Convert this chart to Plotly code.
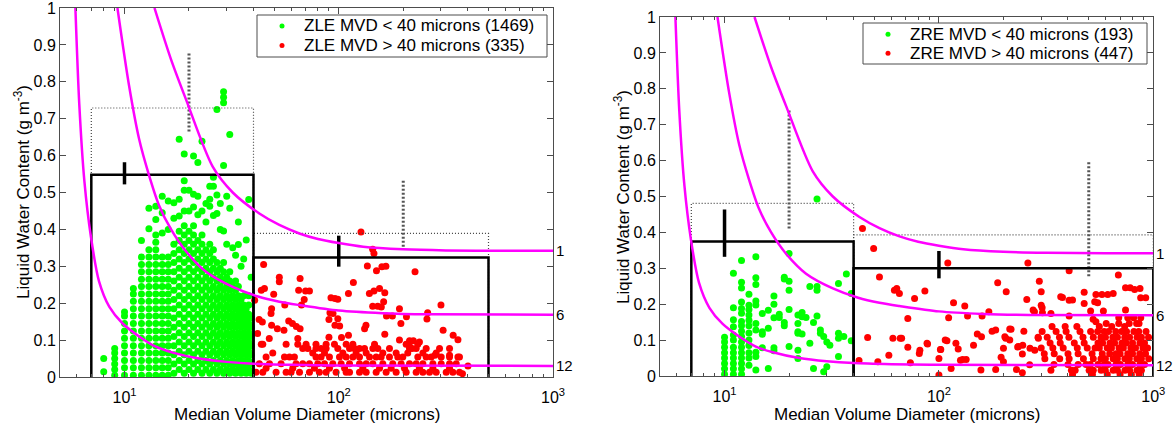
import math
import plotly.graph_objects as go

FONT = "Liberation Sans, Arial, Helvetica, sans-serif"
W, H = 1174, 429

# ---------------- guide curves (labelled 1, 6, 12) ----------------
curve_labels = ["1", "6", "12"]
curve1_mvd = [13.8, 16.5, 19.4, 25.8, 32, 42.6, 52.8, 65.5, 80, 100, 130, 200, 316, 600, 1000]
curve1_lwc = [1.0, 0.86, 0.751, 0.57, 0.50, 0.443, 0.412, 0.389, 0.374, 0.363, 0.353, 0.346, 0.343, 0.342, 0.342]
curve6_mvd = [9.27, 10.5, 11.7, 13.0, 14.5, 16.5, 19.4, 24, 32, 42, 52.8, 65.5, 100, 160, 263, 1000]
curve6_lwc = [1.0, 0.79, 0.645, 0.548, 0.465, 0.40, 0.340, 0.285, 0.244, 0.218, 0.204, 0.195, 0.180, 0.173, 0.170, 0.169]
curve12_mvd = [5.9, 6.15, 6.5, 6.97, 7.6, 8.5, 9.8, 11.7, 14, 16.8, 22.3, 30, 40, 60, 100, 1000]
curve12_lwc = [1.0, 0.74, 0.53, 0.38, 0.26, 0.19, 0.145, 0.11, 0.082, 0.066, 0.05, 0.041, 0.036, 0.033, 0.031, 0.030]

# ---------------- bin means (black) and dotted boxes ----------------
zle_bin_lo = [7, 40]
zle_bin_hi = [40, 500]
zle_mean = [0.548, 0.324]
zle_err_x = [10, 100]
zle_err_lo = [0.522, 0.299]
zle_err_hi = [0.582, 0.383]
zle_dot = [0.729, 0.389]
zle_dot_err_x = [20, 200]
zle_dot_err_lo = [0.665, 0.353]
zle_dot_err_hi = [0.882, 0.534]

zre_bin_lo = [7, 40]
zre_bin_hi = [40, 1000]
zre_mean = [0.375, 0.300]
zre_err_x = [10, 100]
zre_err_lo = [0.332, 0.272]
zre_err_hi = [0.464, 0.348]
zre_dot = [0.481, 0.393]
zre_dot_err_x = [20, 500]
zre_dot_err_lo = [0.411, 0.278]
zre_dot_err_hi = [0.740, 0.596]

# ---------------- axis ticks / legend text ----------------
x_tickvals = [10, 100, 1000]
x_ticktext = ["10<sup>1</sup>", "10<sup>2</sup>", "10<sup>3</sup>"]
x_minor = [6, 7, 8, 9, 20, 30, 40, 50, 60, 70, 80, 90, 200, 300, 400, 500, 600, 700, 800, 900]
zle_legend = ["ZLE MVD &lt; 40 microns (1469)", "ZLE MVD &gt; 40 microns (335)"]
zre_legend = ["ZRE MVD &lt; 40 microns (193)", "ZRE MVD &gt; 40 microns (447)"]

# ---------------- ZLE, MVD < 40 (columns: MVD, LWC values) ----------------
zle_lt40_columns = [
    (8, [0.014, 0.05]),
    (9, [0.005, 0.02, 0.035, 0.05, 0.065, 0.077]),
    (10, [0.005, 0.025, 0.045, 0.065, 0.085, 0.105, 0.125, 0.145, 0.165, 0.176]),
    (11, [0.005, 0.025, 0.045, 0.065, 0.085, 0.105, 0.125, 0.145, 0.165, 0.185, 0.205, 0.225, 0.24]),
    (12, [0.005, 0.025, 0.045, 0.065, 0.085, 0.105, 0.125, 0.145, 0.165, 0.185, 0.205, 0.225, 0.245, 0.265,
          0.285, 0.305, 0.325, 0.37]),
    (13, [0.005, 0.025, 0.045, 0.065, 0.085, 0.105, 0.125, 0.145, 0.165, 0.185, 0.205, 0.225, 0.245, 0.265,
          0.285, 0.305, 0.325, 0.345, 0.402, 0.457]),
    (14, [0.005, 0.025, 0.045, 0.065, 0.085, 0.105, 0.125, 0.145, 0.165, 0.185, 0.205, 0.225, 0.245, 0.265,
          0.285, 0.305, 0.325, 0.345, 0.365, 0.385, 0.427, 0.463]),
    (15, [0.005, 0.025, 0.045, 0.065, 0.085, 0.105, 0.125, 0.145, 0.165, 0.185, 0.205, 0.225, 0.245, 0.265,
          0.285, 0.305, 0.325, 0.39, 0.445, 0.49]),
    (16, [0.005, 0.025, 0.045, 0.065, 0.085, 0.105, 0.125, 0.145, 0.165, 0.185, 0.205, 0.225, 0.245, 0.265,
          0.285, 0.305, 0.325, 0.40, 0.477]),
    (17, [0.01, 0.035, 0.06, 0.085, 0.11, 0.135, 0.16, 0.185, 0.21, 0.235, 0.26, 0.285, 0.31, 0.335, 0.36,
          0.43, 0.472]),
    (18, [0.02, 0.045, 0.07, 0.095, 0.12, 0.145, 0.17, 0.195, 0.22, 0.245, 0.27, 0.295, 0.32, 0.345, 0.37,
          0.395, 0.436, 0.482, 0.644]),
    (19, [0.01, 0.035, 0.06, 0.085, 0.11, 0.135, 0.16, 0.185, 0.21, 0.235, 0.26, 0.285, 0.31, 0.335, 0.36,
          0.385, 0.41, 0.45, 0.506, 0.532, 0.604]),
    (20, [0.02, 0.045, 0.07, 0.095, 0.12, 0.145, 0.17, 0.195, 0.22, 0.245, 0.27, 0.295, 0.32, 0.345, 0.37,
          0.395, 0.45, 0.506]),
    (21, [0.01, 0.035, 0.06, 0.085, 0.11, 0.135, 0.16, 0.185, 0.21, 0.235, 0.26, 0.285, 0.31, 0.335, 0.36,
          0.385, 0.41, 0.461, 0.495, 0.599]),
    (22, [0.02, 0.045, 0.07, 0.095, 0.12, 0.145, 0.17, 0.195, 0.22, 0.245, 0.27, 0.295, 0.32, 0.345, 0.37,
          0.44, 0.49, 0.581]),
    (23, [0.01, 0.035, 0.06, 0.085, 0.11, 0.135, 0.16, 0.185, 0.21, 0.235, 0.26, 0.285, 0.31, 0.335, 0.36,
          0.385, 0.45, 0.639]),
    (24, [0.02, 0.045, 0.07, 0.095, 0.12, 0.145, 0.17, 0.195, 0.22, 0.245, 0.27, 0.295, 0.32, 0.345,
          0.42, 0.47]),
    (25, [0.01, 0.035, 0.06, 0.085, 0.11, 0.135, 0.16, 0.185, 0.21, 0.235, 0.26, 0.285, 0.31, 0.335, 0.36,
          0.463, 0.482, 0.517]),
    (26, [0.02, 0.045, 0.07, 0.095, 0.12, 0.145, 0.17, 0.195, 0.22, 0.245, 0.27, 0.295, 0.32, 0.345,
          0.438, 0.517, 0.541]),
    (27, [0.01, 0.035, 0.06, 0.085, 0.11, 0.135, 0.16, 0.185, 0.21, 0.235, 0.26, 0.285, 0.31,
          0.443, 0.493, 0.725]),
    (28, [0.02, 0.045, 0.07, 0.095, 0.12, 0.145, 0.17, 0.195, 0.22, 0.245, 0.27, 0.295, 0.40, 0.47]),
    (29, [0.01, 0.035, 0.06, 0.085, 0.11, 0.135, 0.16, 0.185, 0.21, 0.235, 0.26, 0.285, 0.31,
          0.396, 0.573, 0.743, 0.758, 0.773]),
    (30, [0.02, 0.045, 0.07, 0.095, 0.12, 0.145, 0.17, 0.195, 0.22, 0.245, 0.27, 0.36, 0.49]),
    (31, [0.01, 0.035, 0.06, 0.085, 0.11, 0.135, 0.16, 0.185, 0.21, 0.235, 0.26, 0.285, 0.457, 0.657]),
    (32, [0.02, 0.045, 0.07, 0.095, 0.12, 0.145, 0.17, 0.195, 0.22, 0.245, 0.35]),
    (33, [0.01, 0.035, 0.06, 0.085, 0.11, 0.135, 0.16, 0.185, 0.21, 0.235, 0.26, 0.33]),
    (34, [0.02, 0.045, 0.07, 0.095, 0.12, 0.145, 0.17, 0.195, 0.22, 0.245, 0.359, 0.42]),
    (35, [0.01, 0.035, 0.06, 0.085, 0.11, 0.135, 0.16, 0.185, 0.21, 0.30]),
    (36, [0.02, 0.045, 0.07, 0.095, 0.12, 0.145, 0.17, 0.195, 0.22, 0.32]),
    (37, [0.01, 0.035, 0.06, 0.085, 0.11, 0.135, 0.16, 0.185, 0.371]),
    (38, [0.02, 0.045, 0.07, 0.095, 0.12, 0.145, 0.17, 0.195, 0.22, 0.481]),
    (39, [0.01, 0.035, 0.06, 0.085, 0.11, 0.135, 0.16, 0.27]),
]

# ---------------- ZLE, MVD > 40 ----------------
zle_gt40_points = [
    (127, 0.393), (144, 0.346), (146, 0.335), (44.6, 0.305), (136, 0.301), (150, 0.288), (159, 0.299),
    (166, 0.30), (227, 0.285), (52.8, 0.27), (52.8, 0.258), (66, 0.267), (43.5, 0.235), (45, 0.24),
    (49.7, 0.224), (65, 0.235), (70, 0.233), (73, 0.233), (117, 0.256), (111, 0.226), (139, 0.226),
    (146, 0.233), (155, 0.24), (164, 0.228), (162, 0.204), (158, 0.19), (152, 0.192), (144, 0.192),
    (92, 0.215), (96, 0.213), (99, 0.211), (69, 0.21), (56, 0.195), (67, 0.195), (40.5, 0.208),
    (192, 0.185), (207, 0.163), (167, 0.165), (178, 0.165), (260, 0.174), (258, 0.157), (300, 0.195),
    (91, 0.174), (94, 0.172), (99, 0.158), (90, 0.156), (96, 0.14), (101, 0.138), (195, 0.145),
    (134, 0.14), (132, 0.131), (307, 0.127), (342, 0.113), (360, 0.101), (48.6, 0.185), (48.3, 0.172),
    (42.5, 0.156), (44, 0.149), (48.6, 0.14), (51.7, 0.131), (58.4, 0.152), (60.8, 0.145), (63.4, 0.137),
    (66, 0.131), (55.5, 0.127), (41.8, 0.118), (47.4, 0.104), (43.5, 0.089), (64.4, 0.104), (90, 0.108),
    (103, 0.107), (111, 0.113), (164, 0.116), (192, 0.1), (214, 0.098), (223, 0.098), (238, 0.095),
    (220, 0.077), (214, 0.083), (281, 0.059), (329, 0.059), (366, 0.054), (401, 0.03), (378, 0.009),
]
zle_gt40_rows = [
    (0.089, [44.2, 56.8, 64.4, 70.4, 78.3, 87.3, 95.5, 108.3, 116.4, 146.9, 206.4, 233.9]),
    (0.077, [67.9, 71.7, 78.3, 82.7, 87.3, 99.0, 112.3, 118.4, 125.0, 131.9, 144.3, 152.2, 172.5, 213.9,
             229.8, 255.9, 295.4, 328.9]),
    (0.065, [49.2, 75.6, 85.8, 104.5, 120.5, 134.3, 160.6, 185.3, 210, 247, 285]),
    (0.054, [45.8, 55.8, 58.9, 62.1, 78.3, 82.7, 90.5, 100.8, 108.3, 116.4, 125.0, 139.2, 149.5, 157.7,
             172.5, 188.6, 199.1, 233.9, 255.9, 270.1, 300.7, 328.9, 359.8]),
    (0.036, [42.6, 47.5, 53.8, 63.2, 67.9, 73.0, 79.8, 85.8, 93.8, 102.6, 112.3, 125.0, 134.3, 144.3,
             160.6, 178.7, 195.5, 213.9, 229.8, 247.0, 275.0, 300.7, 328.9, 353.4]),
    (0.024, [45.8, 61, 77, 90.5, 106.5, 129.5, 155, 175.6, 202.7, 238.1, 275, 328.9]),
    (0.013, [41.1, 44.2, 51.0, 56.8, 59.9, 65.6, 73.0, 81.2, 87.3, 97.2, 108.3, 112.3, 125.0, 134.3,
             149.5, 166.4, 185.3, 206.4, 229.8, 247.0, 265.3, 285.0, 317.4, 341.0, 366.3]),
]

# ---------------- ZRE, MVD < 40 ----------------
zre_lt40_columns = [
    (10, [0.005, 0.02, 0.035, 0.05, 0.065, 0.08, 0.095, 0.108]),
    (11, [0.005, 0.02, 0.035, 0.05, 0.065, 0.08, 0.1, 0.114, 0.137, 0.157, 0.19, 0.286]),
    (12, [0.005, 0.02, 0.035, 0.05, 0.065, 0.08, 0.095, 0.11, 0.125, 0.14, 0.152, 0.175, 0.188, 0.206,
          0.245, 0.261, 0.322]),
    (13, [0.03, 0.05, 0.065, 0.085, 0.1, 0.12, 0.14, 0.155, 0.17, 0.185, 0.197, 0.228]),
    (14, [0.017, 0.054, 0.066, 0.128, 0.146, 0.198, 0.209, 0.255, 0.274, 0.332]),
    (15, [0.079, 0.116, 0.123, 0.174]),
    (16, [0.021, 0.133, 0.183]),
    (17, [0.07, 0.079, 0.162, 0.2, 0.223]),
    (18, [0.163, 0.172]),
    (19, [0.14, 0.149, 0.27, 0.275]),
    (20, [0.082, 0.185, 0.239, 0.264, 0.341]),
    (22, [0.049, 0.072, 0.119, 0.123, 0.146, 0.17]),
    (23, [0.117, 0.165, 0.177]),
    (24, [0.163]),
    (25, [0.091, 0.249]),
    (26, [0.021, 0.149]),
    (27, [0.167, 0.239, 0.249, 0.493]),
    (28, [0.119, 0.128]),
    (29, [0.012, 0.11]),
    (30, [0.026, 0.095]),
    (31, [0.086]),
    (34, [0.054, 0.105, 0.119, 0.258]),
    (36, [0.11]),
    (37, [0.284]),
    (39, [0.098, 0.23]),
]

# ---------------- ZRE, MVD > 40 ----------------
zre_gt40_points = [
    (44, 0.411), (49.6, 0.355), (110, 0.315), (260, 0.315), (52.8, 0.276), (405, 0.293), (687, 0.281),
    (294, 0.264), (188, 0.26), (63.6, 0.244), (65.4, 0.23), (62, 0.239), (86, 0.237), (77, 0.216),
    (206, 0.235), (300, 0.235), (257, 0.213), (300, 0.197), (279, 0.179), (304, 0.176), (333, 0.174),
    (370, 0.221), (405, 0.211), (420, 0.212), (476, 0.233), (476, 0.202), (540, 0.227), (533, 0.207),
    (550, 0.204), (576, 0.227), (613, 0.227), (650, 0.23), (742, 0.246), (818, 0.241), (873, 0.218),
    (510, 0.181), (117, 0.204), (132, 0.195), (111, 0.162), (136, 0.167), (159, 0.167), (171, 0.179),
    (71.6, 0.16), (405, 0.167), (524, 0.158), (540, 0.151), (742, 0.184), (810, 0.162), (690, 0.162),
    (760, 0.162), (874, 0.162), (585, 0.181), (377, 0.219), (275, 0.184), (303, 0.19), (922, 0.218),
    (780, 0.246), (867, 0.244), (177, 0.125), (184, 0.128), (214, 0.131), (249, 0.125), (205, 0.105),
    (214, 0.1), (233, 0.081), (246, 0.086), (266, 0.077), (200, 0.077), (46.5, 0.107), (66, 0.105),
    (71.6, 0.08), (88, 0.091), (81, 0.063), (58.4, 0.058), (51.9, 0.04), (42.4, 0.043), (73.6, 0.037),
    (100, 0.049), (102, 0.074), (109, 0.098), (107, 0.1), (120, 0.091), (123, 0.075), (126, 0.044),
    (129, 0.046), (134, 0.046), (145, 0.086), (114, 0.021), (157, 0.017), (100, 0.003), (184, 0.018),
    (195, 0.052), (200, 0.04), (230, 0.018), (245, 0.009), (265, 0.031), (291, 0.105), (158, 0.109),
    (151, 0.117), (203, 0.109), (217, 0.13), (235, 0.082), (245, 0.061), (280, 0.072), (61, 0.105),
    (67, 0.105), (81.5, 0.072), (88.5, 0.089), (101.6, 0.074),
]
zre_gt40_rows = [
    (0.146, [603, 690, 772, 836, 858]),
    (0.138, [337, 388, 440, 560, 640, 735]),
    (0.124, [303, 352, 392, 455, 510, 550, 590, 618, 668, 712, 750, 812, 855, 925]),
    (0.108, [290, 320, 365, 404, 470, 525, 570, 598, 648, 680, 736, 775, 840, 880, 950]),
    (0.092, [330, 368, 428, 476, 552, 580, 628, 660, 714, 748, 800, 866, 910]),
    (0.078, [300, 340, 380, 442, 492, 535, 560, 610, 638, 692, 725, 786, 826, 895, 940]),
    (0.062, [310, 345, 400, 446, 518, 578, 626, 670, 700, 760, 800, 865, 920]),
    (0.048, [312, 366, 405, 472, 525, 570, 598, 650, 680, 737, 773, 838, 880, 952]),
    (0.032, [344, 400, 446, 486, 508, 552, 590, 615, 670, 702, 760, 800, 866, 910]),
    (0.016, [333, 415, 432, 502, 525, 571, 597, 650, 680, 738, 775, 840, 880]),
    (0.004, [420, 520, 610, 700, 790, 860]),
]

GREEN, RED = "#00FF00", "#FF0000"


# ---------------- helpers ----------------
def from_columns(cols):
    xs, ys = [], []
    for mvd, lwcs in cols:
        for v in lwcs:
            xs.append(mvd)
            ys.append(v)
    return xs, ys


def from_points_rows(points, rows):
    xs = [p[0] for p in points]
    ys = [p[1] for p in points]
    for lwc, mvds in rows:
        for m in mvds:
            xs.append(m)
            ys.append(lwc)
    return xs, ys


def box_path(lo, hi, top):
    xs, ys = [], []
    for a, b, t in zip(lo, hi, top):
        xs += [a, a, b, b, None]
        ys += [0, t, t, 0, None]
    return xs, ys


def seg_path(x, lo, hi):
    xs, ys = [], []
    for a, l, h in zip(x, lo, hi):
        xs += [a, a, None]
        ys += [l, h, None]
    return xs, ys


fig = go.Figure()


def add_panel(xa, ya, lt_cols, lt_name, gt_pts, gt_rows, gt_name,
              blo, bhi, mean, ex, elo, ehi, dot, dex, delo, dehi):
    gx, gy = from_columns(lt_cols)
    fig.add_trace(go.Scatter(x=gx, y=gy, mode="markers", name=lt_name, xaxis=xa, yaxis=ya,
                             marker=dict(color=GREEN, size=7, line=dict(width=0))))
    rx, ry = from_points_rows(gt_pts, gt_rows)
    fig.add_trace(go.Scatter(x=rx, y=ry, mode="markers", name=gt_name, xaxis=xa, yaxis=ya,
                             marker=dict(color=RED, size=7, line=dict(width=0))))
    # dotted boxes and their error bars
    px_, py_ = box_path(blo, bhi, dot)
    fig.add_trace(go.Scatter(x=px_, y=py_, mode="lines", xaxis=xa, yaxis=ya,
                             line=dict(color="#444444", width=1.2, dash="1px,2px"), hoverinfo="skip"))
    px_, py_ = seg_path(dex, delo, dehi)
    fig.add_trace(go.Scatter(x=px_, y=py_, mode="lines", xaxis=xa, yaxis=ya,
                             line=dict(color="#555555", width=3, dash="2px,2px"), hoverinfo="skip"))
    # black mean boxes and error bars
    px_, py_ = box_path(blo, bhi, mean)
    fig.add_trace(go.Scatter(x=px_, y=py_, mode="lines", xaxis=xa, yaxis=ya,
                             line=dict(color="black", width=2.5), hoverinfo="skip"))
    px_, py_ = seg_path(ex, elo, ehi)
    fig.add_trace(go.Scatter(x=px_, y=py_, mode="lines", xaxis=xa, yaxis=ya,
                             line=dict(color="black", width=3.5), hoverinfo="skip"))
    # guide curves
    for cx, cy, lab in zip([curve1_mvd, curve6_mvd, curve12_mvd],
                           [curve1_lwc, curve6_lwc, curve12_lwc], curve_labels):
        fig.add_trace(go.Scatter(x=cx, y=cy, mode="lines", xaxis=xa, yaxis=ya,
                                 line=dict(color="#FF00FF", width=2.5, shape="spline", smoothing=0.8),
                                 hoverinfo="skip"))
        fig.add_annotation(x=math.log10(cx[-1]), y=cy[-1], xref=xa, yref=ya, text=lab, showarrow=False,
                           xanchor="left", yanchor="middle", xshift=1,
                           font=dict(family=FONT, size=15, color="black"))


add_panel("x", "y", zle_lt40_columns, zle_legend[0], zle_gt40_points, zle_gt40_rows, zle_legend[1],
          zle_bin_lo, zle_bin_hi, zle_mean, zle_err_x, zle_err_lo, zle_err_hi,
          zle_dot, zle_dot_err_x, zle_dot_err_lo, zle_dot_err_hi)
add_panel("x2", "y2", zre_lt40_columns, zre_legend[0], zre_gt40_points, zre_gt40_rows, zre_legend[1],
          zre_bin_lo, zre_bin_hi, zre_mean, zre_err_x, zre_err_lo, zre_err_hi,
          zre_dot, zre_dot_err_x, zre_dot_err_lo, zre_dot_err_hi)

AXC = "#4d4d4d"
xcommon = dict(type="log", range=[math.log10(5), 3], tickmode="array", tickvals=x_tickvals,
               ticktext=x_ticktext, ticks="inside", ticklen=6, tickcolor=AXC, showline=True,
               linecolor=AXC, linewidth=1, mirror="ticks", showgrid=False, zeroline=False,
               automargin=False, ticklabelstandoff=6, ticklabeloverflow="allow",
               tickfont=dict(family=FONT, size=16, color="black"),
               minor=dict(tickmode="array", tickvals=x_minor, ticks="inside", ticklen=3, tickcolor=AXC,
                          showgrid=False))
ycommon = dict(range=[0, 1], tick0=0, dtick=0.1, ticks="inside", ticklen=6, tickcolor=AXC, showline=True,
               linecolor=AXC, linewidth=1, mirror="ticks", showgrid=False, zeroline=False,
               automargin=False, ticklabeloverflow="allow",
               tickfont=dict(family=FONT, size=16, color="black"))

fig.update_layout(
    width=W, height=H, margin=dict(l=0, r=0, t=0, b=0, autoexpand=False),
    paper_bgcolor="white", plot_bgcolor="white", showlegend=False,
    xaxis=dict(domain=[60 / W, 553 / W], anchor="y", **xcommon),
    yaxis=dict(domain=[1 - 377 / H, 1 - 8 / H], anchor="x", **ycommon),
    xaxis2=dict(domain=[660 / W, 1153.3 / W], anchor="y2", **xcommon),
    yaxis2=dict(domain=[1 - 376 / H, 1 - 17 / H], anchor="x2", **ycommon),
)


# ---------------- legends drawn as shapes + text ----------------
def px_x(v):
    return v / W


def px_y(v):
    return 1 - v / H


def add_legend(box, dot_x, text_x, rows_y, labels):
    x0, y0, x1, y1 = box
    fig.add_shape(type="rect", xref="paper", yref="paper", x0=px_x(x0), x1=px_x(x1), y0=px_y(y1),
                  y1=px_y(y0), line=dict(color=AXC, width=1), fillcolor="white", layer="above")
    for yy, lab, col in zip(rows_y, labels, [GREEN, RED]):
        fig.add_shape(type="circle", xref="paper", yref="paper", xsizemode="pixel", ysizemode="pixel",
                      xanchor=px_x(dot_x), yanchor=px_y(yy), x0=-2.5, x1=2.5, y0=-2.5, y1=2.5,
                      fillcolor=col, line=dict(width=0), layer="above")
        fig.add_annotation(x=px_x(text_x), y=px_y(yy), xref="paper", yref="paper", showarrow=False,
                           text=lab, xanchor="left", yanchor="middle",
                           font=dict(family=FONT, size=17, color="black"))


add_legend((257, 15, 547, 57), 282, 302, [26, 45.5], zle_legend)
add_legend((863, 23, 1147, 64), 888, 908, [34.3, 53.3], zre_legend)

# axis titles
for xc, yc_title, yc in [((60 + 553) / 2 / W, 22 / W, 1 - 192 / H),
                         ((660 + 1153) / 2 / W, 622 / W, 1 - 197 / H)]:
    fig.add_annotation(x=xc, y=1 - 414 / H, xref="paper", yref="paper", showarrow=False,
                       text="Median Volume Diameter (microns)", xanchor="center", yanchor="middle",
                       font=dict(family=FONT, size=17, color="black"))
    fig.add_annotation(x=yc_title, y=yc, xref="paper", yref="paper", showarrow=False, textangle=-90,
                       text="Liquid Water Content (g m<sup>-3</sup>)", xanchor="center", yanchor="middle",
                       font=dict(family=FONT, size=17, color="black"))

fig.write_html("out.html")
